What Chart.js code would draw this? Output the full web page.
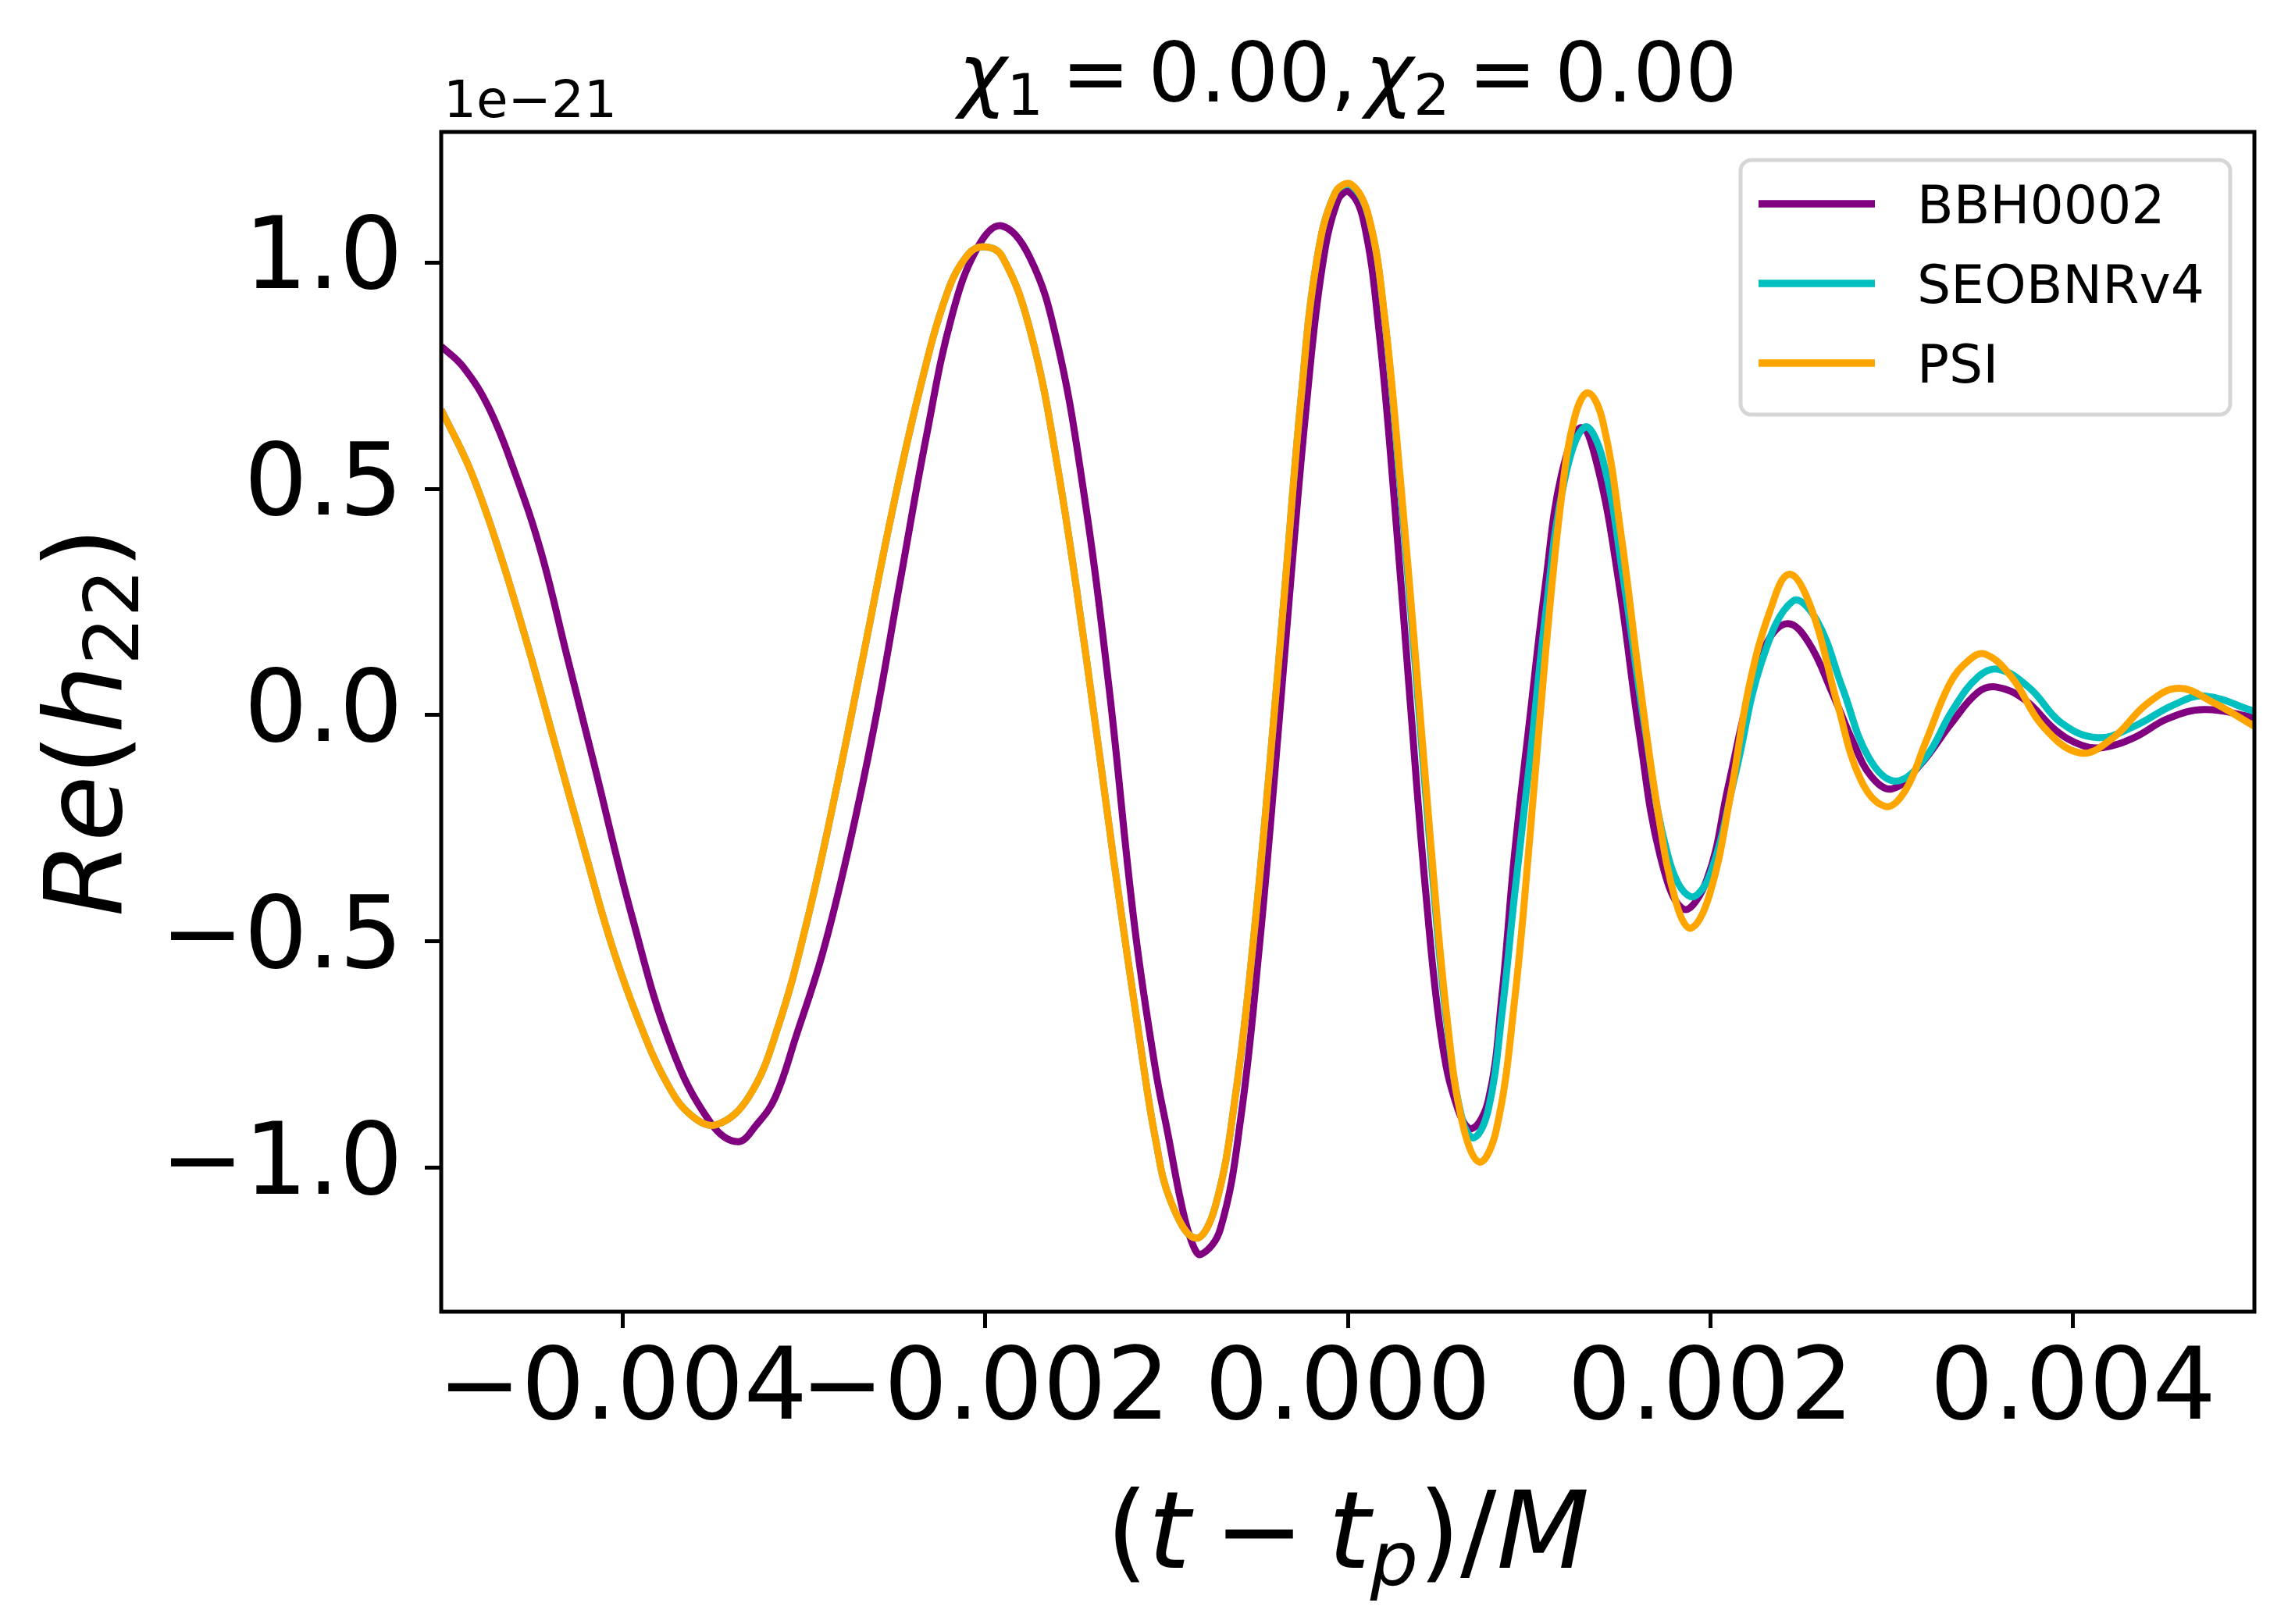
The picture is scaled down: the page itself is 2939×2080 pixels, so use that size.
<!DOCTYPE html>
<html>
<head>
<meta charset="utf-8">
<script src="https://cdn.jsdelivr.net/npm/chart.js@4.4.0/dist/chart.umd.min.js"></script>
<style>
  html, body { margin: 0; padding: 0; background: #fff; }
  #wrap { width: 2939px; height: 2080px; position: relative; }
</style>
</head>
<body>
<div id="wrap"><canvas id="grafik"></canvas></div>
<script>
// time axis (t - t_p)/M, values of Re(h22) in units of 1e-21
const bbhT = [-0.005, -0.00488, -0.004736, -0.004593, -0.004449, -0.004306, -0.004162, -0.003947, -0.003732, -0.003516,
  -0.003366, -0.00326, -0.003158, -0.003043, -0.002899, -0.002756, -0.002612, -0.002469, -0.002325, -0.002182,
  -0.002039, -0.001909, -0.001752, -0.001608, -0.001464, -0.001321, -0.001177, -0.001062, -0.00099, -0.000918,
  -0.00086, -0.00081, -0.000703, -0.000588, -0.000488, -0.000402, -0.000315, -0.000229, -0.000143, -0.000057,
  0.000007, 0.000086, 0.000172, 0.000259, 0.000345, 0.000431, 0.000517, 0.000604, 0.000683, 0.000776,
  0.00085, 0.000919, 0.001006, 0.001092, 0.001178, 0.001286, 0.001379, 0.001494, 0.001609, 0.001723,
  0.001853, 0.001982, 0.002097, 0.002211, 0.002312, 0.002427, 0.002542, 0.002671, 0.002786, 0.002886,
  0.003001, 0.003159, 0.003331, 0.003475, 0.003575, 0.003733, 0.003905, 0.004049, 0.004164, 0.004336,
  0.004523, 0.004724, 0.005];
const bbhRe = [0.815, 0.77, 0.678, 0.535, 0.36, 0.13, -0.1, -0.446, -0.732, -0.9,
  -0.943, -0.905, -0.845, -0.71, -0.53, -0.3, -0.025, 0.295, 0.614, 0.884,
  1.035, 1.081, 1.01, 0.833, 0.513, 0.075, -0.463, -0.78, -0.93, -1.08,
  -1.165, -1.192, -1.136, -0.884, -0.513, -0.126, 0.295, 0.682, 0.985, 1.136,
  1.156, 1.094, 0.85, 0.463, 0.025, -0.396, -0.715, -0.867, -0.914, -0.85,
  -0.62, -0.31, 0.0, 0.295, 0.53, 0.635, 0.547, 0.295, -0.042, -0.311,
  -0.429, -0.362, -0.16, 0.042, 0.16, 0.202, 0.16, 0.05, -0.059, -0.135,
  -0.163, -0.109, -0.017, 0.05, 0.062, 0.034, -0.034, -0.067, -0.072, -0.05,
  -0.008, 0.012, -0.005];

const seobT = [-0.005, -0.004837, -0.00468, -0.004521, -0.00437, -0.004212, -0.004062, -0.003911, -0.003753, -0.00362,
  -0.00348, -0.003301, -0.003143, -0.002985, -0.002828, -0.00267, -0.002519, -0.002368, -0.002211, -0.002094,
  -0.002009, -0.001909, -0.001752, -0.0016, -0.001442, -0.001291, -0.001139, -0.001062, -0.000976, -0.000839,
  -0.000731, -0.000617, -0.000516, -0.00043, -0.000344, -0.000258, -0.000172, -0.000071, 0.000018, 0.000115,
  0.000202, 0.000288, 0.000374, 0.00046, 0.000546, 0.000632, 0.000697, 0.000776, 0.00085, 0.000919,
  0.001006, 0.001092, 0.001192, 0.001307, 0.001407, 0.001522, 0.001637, 0.001766, 0.001888, 0.001996,
  0.00214, 0.002283, 0.002455, 0.002585, 0.002729, 0.002872, 0.003022, 0.003188, 0.003331, 0.003475,
  0.00359, 0.003762, 0.003934, 0.004135, 0.004336, 0.004552, 0.004724, 0.005];
const seobRe = [0.675, 0.539, 0.362, 0.151, -0.067, -0.295, -0.505, -0.675, -0.815, -0.885,
  -0.905, -0.842, -0.69, -0.46, -0.177, 0.135, 0.438, 0.707, 0.931, 1.018,
  1.035, 1.015, 0.85, 0.547, 0.126, -0.32, -0.741, -0.934, -1.075, -1.156,
  -1.086, -0.833, -0.48, -0.109, 0.295, 0.699, 1.002, 1.153, 1.17, 1.1,
  0.88, 0.51, 0.1, -0.32, -0.68, -0.895, -0.934, -0.87, -0.66, -0.4,
  -0.093, 0.227, 0.513, 0.636, 0.564, 0.295, -0.025, -0.311, -0.401, -0.354,
  -0.126, 0.118, 0.252, 0.21, 0.059, -0.093, -0.146, -0.093, 0.008, 0.084,
  0.101, 0.059, -0.017, -0.05, -0.025, 0.022, 0.042, 0.008];

const psiT = [-0.005, -0.004837, -0.00468, -0.004521, -0.00437, -0.004212, -0.004062, -0.003911, -0.003753, -0.00362,
  -0.00348, -0.003301, -0.003143, -0.002985, -0.002828, -0.00267, -0.002519, -0.002368, -0.002211, -0.002094,
  -0.002009, -0.001909, -0.001752, -0.0016, -0.001442, -0.001291, -0.001139, -0.001062, -0.000976, -0.000839,
  -0.000731, -0.000617, -0.000516, -0.00043, -0.000344, -0.000258, -0.000172, -0.000071, 0.000018, 0.000115,
  0.000202, 0.000288, 0.000374, 0.00046, 0.000546, 0.000632, 0.000726, 0.000819, 0.00092, 0.001006,
  0.001092, 0.001178, 0.00125, 0.001325, 0.001407, 0.001508, 0.001609, 0.001709, 0.001809, 0.001891,
  0.001996, 0.002111, 0.002211, 0.002326, 0.002434, 0.002556, 0.0027, 0.002829, 0.002965, 0.003073,
  0.003188, 0.003317, 0.003417, 0.003511, 0.003661, 0.003834, 0.004042, 0.004221, 0.004408, 0.00458,
  0.004767, 0.005];
const psiRe = [0.675, 0.539, 0.362, 0.151, -0.067, -0.295, -0.505, -0.675, -0.815, -0.885,
  -0.905, -0.842, -0.69, -0.46, -0.177, 0.135, 0.438, 0.707, 0.931, 1.018,
  1.035, 1.015, 0.85, 0.547, 0.126, -0.32, -0.741, -0.934, -1.075, -1.156,
  -1.086, -0.833, -0.48, -0.109, 0.295, 0.699, 1.002, 1.153, 1.173, 1.102,
  0.884, 0.53, 0.126, -0.295, -0.665, -0.901, -0.988, -0.917, -0.63, -0.261,
  0.143, 0.48, 0.656, 0.712, 0.648, 0.396, 0.076, -0.21, -0.412, -0.471,
  -0.396, -0.177, 0.059, 0.227, 0.311, 0.236, 0.025, -0.143, -0.202, -0.168,
  -0.059, 0.067, 0.118, 0.135, 0.084, -0.025, -0.084, -0.05, 0.025, 0.059,
  0.029, -0.025];

const seriesNames = ['BBH0002', 'SEOBNRv4', 'PSI'];
const seriesColors = ['#800080', '#00bfbf', '#ffa500'];
const xTickVals = [-0.004, -0.002, 0, 0.002, 0.004];
const yTickVals = [-1.0, -0.5, 0.0, 0.5, 1.0];
const offsetText = '1e\u221221';

const FONT = '"DejaVu Sans", sans-serif';

function pts(ts, vs) {
    return ts.map((t, i) => ({ x: t, y: vs[i] }));
}
function minusSign(s) {
    return s.replace('-', '\u2212');
}

// kecil: menulis teks gaya mathtext (miring + subscript)
function setFont(ctx, p, size) {
    const s = p.sub ? size * 0.7 : size;
    ctx.font = (p.it ? 'italic ' : '') + s + 'px ' + FONT;
}
function mathWidth(ctx, parts, size) {
    let w = 0;
    parts.forEach(p => {
        if (p.gap) { w += p.gap * size; return; }
        setFont(ctx, p, size);
        w += ctx.measureText(p.t).width;
    });
    return w;
}
function drawMath(ctx, parts, size, x, y) {
    ctx.textAlign = 'left';
    ctx.textBaseline = 'alphabetic';
    parts.forEach(p => {
        if (p.gap) { x += p.gap * size; return; }
        setFont(ctx, p, size);
        ctx.fillText(p.t, x, y + (p.sub ? size * 0.16 : 0));
        x += ctx.measureText(p.t).width;
    });
}

const titleParts = [
    { t: '\u03c7', it: 1 }, { t: '1', sub: 1 }, { gap: 0.22 }, { t: '=' }, { gap: 0.22 }, { t: '0.00,' }, { gap: 0.1 },
    { t: '\u03c7', it: 1 }, { t: '2', sub: 1 }, { gap: 0.22 }, { t: '=' }, { gap: 0.22 }, { t: '0.00' }
];
const xLabelParts = [
    { t: '(' }, { t: 't', it: 1 }, { gap: 0.22 }, { t: '\u2212' }, { gap: 0.22 }, { t: 't', it: 1 }, { t: 'p', it: 1, sub: 1 },
    { t: ')' }, { t: '/' }, { t: 'M', it: 1 }
];
const yLabelParts = [
    { t: 'R', it: 1 }, { t: 'e', it: 1 }, { t: '(' }, { t: 'h', it: 1 }, { t: '22', sub: 1 }, { t: ')' }
];

const decor = {
    id: 'decor',
    afterDraw(chart) {
        const ctx = chart.ctx;
        const a = chart.chartArea;
        ctx.save();
        ctx.fillStyle = '#000';

        // bingkai sumbu
        ctx.strokeStyle = '#000';
        ctx.lineWidth = 5;
        ctx.strokeRect(a.left, a.top, a.right - a.left, a.bottom - a.top);

        // judul
        const cx = (a.left + a.right) / 2;
        let w = mathWidth(ctx, titleParts, 105);
        drawMath(ctx, titleParts, 105, cx - w / 2, 130);

        // offset 1e-21
        ctx.font = '66px ' + FONT;
        ctx.textAlign = 'left';
        ctx.textBaseline = 'alphabetic';
        ctx.fillText(offsetText, a.left + 3, 150);

        // label x
        w = mathWidth(ctx, xLabelParts, 138);
        drawMath(ctx, xLabelParts, 138, cx - w / 2, 2008);

        // label y
        const cy = (a.top + a.bottom) / 2;
        w = mathWidth(ctx, yLabelParts, 138);
        ctx.save();
        ctx.translate(155, cy);
        ctx.rotate(-Math.PI / 2);
        drawMath(ctx, yLabelParts, 138, -w / 2, 0);
        ctx.restore();

        // legenda
        const lx = a.right - 658, ly = a.top + 36, lw = 627, lh = 326;
        ctx.beginPath();
        ctx.roundRect(lx, ly, lw, lh, 14);
        ctx.fillStyle = 'rgba(255,255,255,0.8)';
        ctx.fill();
        ctx.strokeStyle = '#d6d6d6';
        ctx.lineWidth = 5;
        ctx.stroke();
        chart.data.datasets.forEach((ds, i) => {
            const yy = ly + 56 + i * 102;
            ctx.strokeStyle = ds.borderColor;
            ctx.lineWidth = 9.5;
            ctx.beginPath();
            ctx.moveTo(lx + 23, yy);
            ctx.lineTo(lx + 172, yy);
            ctx.stroke();
            ctx.fillStyle = '#000';
            ctx.font = '68px ' + FONT;
            ctx.textAlign = 'left';
            ctx.textBaseline = 'alphabetic';
            ctx.fillText(ds.label, lx + 226, yy + 25);
        });
        ctx.restore();
    }
};

const ctx = document.getElementById('grafik');
const chart = new Chart(ctx, {
    type: 'line',
    data: {
        datasets: [
            { label: seriesNames[0], data: pts(bbhT, bbhRe), borderColor: seriesColors[0], order: 2 },
            { label: seriesNames[1], data: pts(seobT, seobRe), borderColor: seriesColors[1], order: 1 },
            { label: seriesNames[2], data: pts(psiT, psiRe), borderColor: seriesColors[2], order: 0 }
        ].map(d => Object.assign(d, {
            borderWidth: 9,
            pointRadius: 0,
            fill: false,
            tension: 0.4,
            borderJoinStyle: 'round',
            clip: 0
        }))
    },
    options: {
        responsive: true,
        maintainAspectRatio: false,
        devicePixelRatio: 1,
        animation: false,
        layout: { padding: { left: 0, top: 169, right: 52, bottom: 0 } },
        plugins: { legend: { display: false }, tooltip: { enabled: false }, title: { display: false } },
        scales: {
            x: {
                type: 'linear',
                min: -0.005,
                max: 0.005,
                afterBuildTicks: (s) => { s.ticks = xTickVals.map(v => ({ value: v })); },
                afterFit: (s) => { s.height = 400; },
                border: { display: false },
                grid: { drawOnChartArea: false, drawTicks: true, tickLength: 21, tickWidth: 5, tickColor: '#000' },
                ticks: {
                    autoSkip: false, maxRotation: 0, minRotation: 0, padding: 6,
                    color: '#000', font: { family: 'DejaVu Sans', size: 128 },
                    callback: (v) => minusSign(Number(v).toFixed(3))
                }
            },
            y: {
                type: 'linear',
                min: -1.3185,
                max: 1.2885,
                afterBuildTicks: (s) => { s.ticks = yTickVals.map(v => ({ value: v })); },
                afterFit: (s) => { s.width = 565; },
                border: { display: false },
                grid: { drawOnChartArea: false, drawTicks: true, tickLength: 21, tickWidth: 5, tickColor: '#000' },
                ticks: {
                    autoSkip: false, padding: 28,
                    color: '#000', font: { family: 'DejaVu Sans', size: 128 },
                    callback: (v) => minusSign(Number(v).toFixed(1))
                }
            }
        }
    },
    plugins: [decor]
});
</script>
</body>
</html>
